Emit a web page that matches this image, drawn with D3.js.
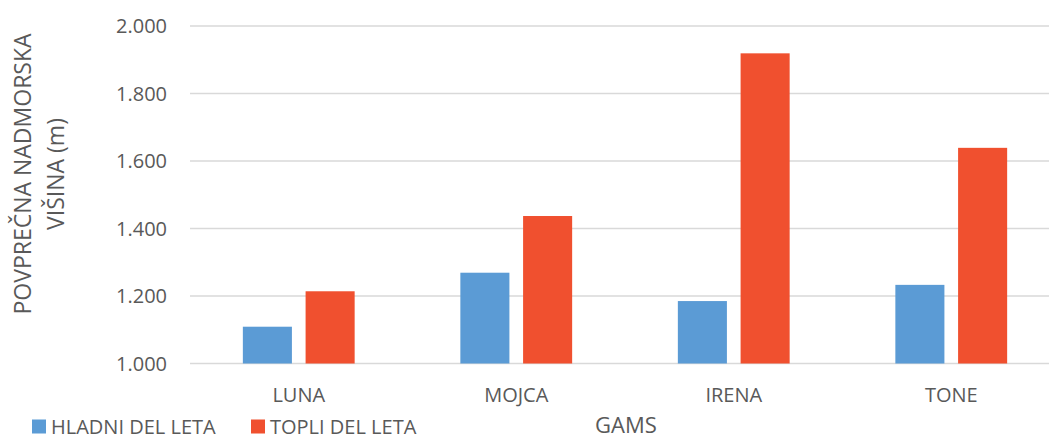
<!DOCTYPE html>
<html>
<head>
<meta charset="utf-8">
<script src="https://cdn.jsdelivr.net/npm/d3@7"></script>
<style>
  html, body { margin: 0; padding: 0; background: #fff; }
  svg { display: block; }
  text { font-family: "Open Sans", "Segoe UI", sans-serif; fill: #595959; }
</style>
</head>
<body>
<svg id="chart" width="1049" height="439"></svg>
<script>
// Average altitude (m) of each animal in the cold and warm part of the year
const categories = ["LUNA", "MOJCA", "IRENA", "TONE"];
const seriesNames = ["HLADNI DEL LETA", "TOPLI DEL LETA"];
const hladni = [1109, 1269, 1185, 1233];
const topli = [1214, 1437, 1919, 1639];
const yTicks = [1000, 1200, 1400, 1600, 1800, 2000];
const colors = ["#5B9BD5", "#F0502F"];

const rows = categories.map((c, i) => ({ cat: c, values: [hladni[i], topli[i]] }));

const svg = d3.select("#chart");
const W = 1049;

const y = d3.scaleLinear().domain([1000, 2000]).range([363.5, 26]);
const x = d3.scaleBand().domain(categories).range([190, 1060])
  .paddingInner(0.486).paddingOuter(0.243);
const xs = d3.scaleBand().domain([0, 1]).range([0, x.bandwidth()]).paddingInner(0.218);

const fmt = v => d3.format(",.0f")(v).replace(/,/g, ".");

// gridlines
svg.append("g").selectAll("line").data(yTicks).join("line")
  .attr("x1", 190).attr("x2", W)
  .attr("y1", d => y(d)).attr("y2", d => y(d))
  .attr("stroke", "#D9D9D9").attr("stroke-width", 1.5);

// y tick labels
svg.append("g").selectAll("text").data(yTicks).join("text")
  .attr("x", 167).attr("y", d => y(d)).attr("dy", "0.36em")
  .attr("text-anchor", "end").attr("font-size", 20)
  .text(fmt);

// bars
const groups = svg.append("g").selectAll("g").data(rows).join("g")
  .attr("transform", d => `translate(${x(d.cat)},0)`);
groups.selectAll("rect").data(d => d.values).join("rect")
  .attr("x", (d, i) => xs(i))
  .attr("width", xs.bandwidth())
  .attr("y", d => y(d))
  .attr("height", d => y(1000) - y(d))
  .attr("fill", (d, i) => colors[i]);

// category labels
svg.append("g").selectAll("text").data(categories).join("text")
  .attr("x", d => x(d) + x.bandwidth() / 2).attr("y", 402)
  .attr("text-anchor", "middle").attr("font-size", 20)
  .text(d => d);

// axis titles
svg.append("text").attr("x", 626).attr("y", 433)
  .attr("text-anchor", "middle").attr("font-size", 22).text("GAMS");

const yt = svg.append("text").attr("transform", "translate(0,174) rotate(-90)")
  .attr("text-anchor", "middle").attr("font-size", 23);
yt.append("tspan").attr("x", 0).attr("y", 31).text("POVPREČNA NADMORSKA");
yt.append("tspan").attr("x", 0).attr("y", 64).text("VIŠINA (m)");

// legend
const legendX = [32, 251];
const lg = svg.append("g").selectAll("g").data(seriesNames).join("g")
  .attr("transform", (d, i) => `translate(${legendX[i]},419.5)`);
lg.append("rect").attr("width", 14).attr("height", 14).attr("fill", (d, i) => colors[i]);
lg.append("text").attr("x", 19).attr("y", 14).attr("font-size", 20).text(d => d);
</script>
</body>
</html>
